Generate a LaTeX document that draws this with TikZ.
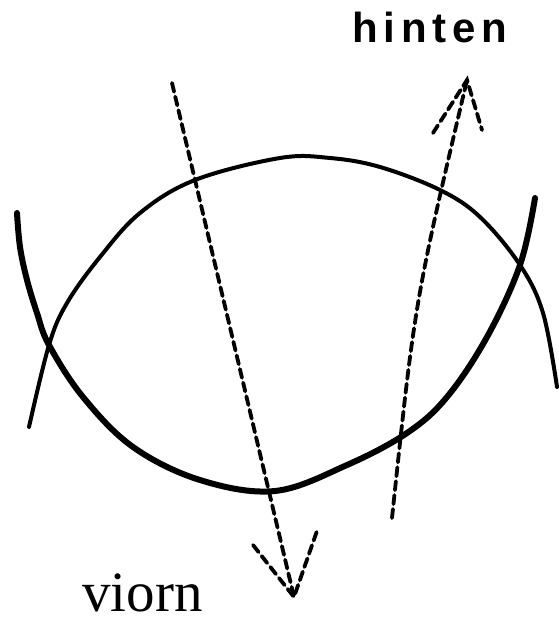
\documentclass[tikz,border=0pt]{standalone}
\usepackage{fontspec}
\setmainfont{Liberation Serif}
\newfontfamily\labelsans{Liberation Sans}[LetterSpace=14]
\usetikzlibrary{positioning,calc}

\begin{document}
\begin{tikzpicture}[
  x=1pt, y=-1pt,
  rim/.style={line width=4pt, line cap=round, line join=round},
  rimthick/.style={line width=6pt, line cap=round, line join=round},
  dashy/.style={line width=3.8pt, dash pattern=on 9pt off 5pt, line cap=round},
  tag/.style={inner sep=0pt, anchor=base west}
]
\useasboundingbox (0,0) rectangle (558,620);

\draw[rim] plot[smooth, tension=0.6] coordinates {(29,427) (49,345) (67,303) (100,257) (140,213) (195,180) (280,158) (330,158) (380,167) (440,190) (480,217) (520,265) (543,313) (557,387)};
\draw[rimthick] plot[smooth, tension=0.6] coordinates {(17,213) (20,247) (27,280) (37,313) (49,345) (83,397) (133,447) (200,480) (275,491) (347,465) (407,433) (447,397) (487,337) (520,265) (535,198)};

\coordinate (downtop) at (172,83);
\coordinate (downtip) at (294,597);
\coordinate (downleft) at (253,545);
\coordinate (downright) at (318,528);
\coordinate (uptail) at (392,518);
\coordinate (uptip) at (467,80);
\coordinate (upleft) at (433,133);
\coordinate (upright) at (482,130);

\draw[dashy] (downtop) -- (downtip);
\draw[dashy] (downleft) -- (downtip) -- (downright);
\draw[dashy] (uptail) .. controls (415,300) .. (uptip);
\draw[dashy] (upleft) -- (uptip) -- (upright);

\node[tag, font=\labelsans\bfseries\fontsize{42}{45}\selectfont] (hinten) at (352,43) {hinten};
\node[tag, font=\fontsize{57}{60}\selectfont] (viorn) at (82,611) {viorn};
\end{tikzpicture}
\end{document}
